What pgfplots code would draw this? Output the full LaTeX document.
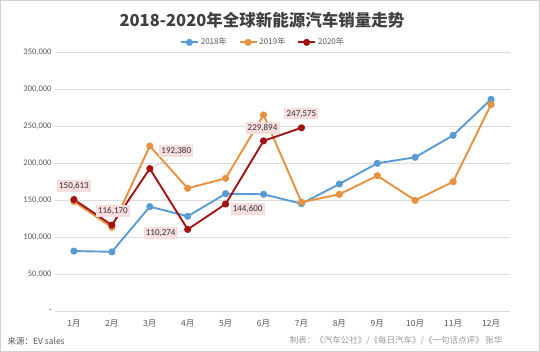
\documentclass[border=0pt]{standalone}
\usepackage{pgfplots}
\pgfplotsset{compat=1.18}
\usepackage{fontspec}
\setmainfont{Carlito}
\newfontfamily\cjk{Noto Sans CJK SC}
\definecolor{c18}{HTML}{5B9BD5}
\definecolor{c19}{HTML}{E8913F}
\definecolor{c20}{HTML}{A31515}
\definecolor{lbl}{HTML}{F7DEDE}
\definecolor{txt}{HTML}{595959}
\begin{document}
\begin{tikzpicture}[x=1pt,y=1pt]
\fill[white] (0,0) rectangle (540,352);
\draw[gray!35] (0.5,0.5) rectangle (539.5,351.5);
\begin{axis}[
  at={(55pt,41pt)}, anchor=south west,
  width=455pt, height=259pt, scale only axis,
  xmin=0.5, xmax=12.5, ymin=0, ymax=350000,
  scaled y ticks=false,
  ytick={0,50000,100000,150000,200000,250000,300000,350000},
  yticklabels={-,{50,000},{100,000},{150,000},{200,000},{250,000},{300,000},{350,000}},
  xtick={1,...,12},
  xticklabels={1月,2月,3月,4月,5月,6月,7月,8月,9月,10月,11月,12月},
  ymajorgrids, grid style={draw=gray!28, line width=0.8pt},
  axis line style={draw=none}, major tick style={draw=none},
  yticklabel style={font=\fontsize{8.5}{10}\selectfont, text=txt},
  xticklabel style={font=\cjk\fontsize{8.5}{10}\selectfont, text=txt, yshift=-5pt},
  legend style={at={(0.457,1.005)}, anchor=south, draw=none, fill=none,
    legend columns=3, font=\cjk\fontsize{8}{10}\selectfont, text=txt,
    /tikz/every even column/.append style={column sep=10pt}},
  legend image post style={line width=1.8pt},
  every axis plot/.append style={line width=1.9pt, mark=*, mark size=2.6pt, line join=round},
]
\addplot[c18, mark options={fill=c18, draw=c18}] coordinates {
(1,81000)(2,80000)(3,141000)(4,128000)(5,158500)(6,157700)(7,145000)(8,171600)(9,199600)(10,207700)(11,237400)(12,286000)};
\addlegendentry{2018年}
\addplot[c19, mark options={fill=c19, draw=c19}] coordinates {
(1,148000)(2,113000)(3,222900)(4,165800)(5,179300)(6,264900)(7,147000)(8,157700)(9,182800)(10,149500)(11,174700)(12,279000)};
\addlegendentry{2019年}
\addplot[c20, mark options={fill=c20, draw=c20}] coordinates {
(1,150613)(2,116170)(3,192380)(4,110274)(5,144600)(6,229894)(7,247575)};
\addlegendentry{2020年}
\tikzset{dl/.style={fill=lbl, inner sep=2.2pt, font=\fontsize{9}{10}\selectfont, text=black!80}}
\draw[gray!60, thin] (axis cs:3,192380) -- ++(18pt,9pt);
\draw[gray!60, thin] (axis cs:4,110274) -- ++(-8pt,-2pt);
\node[dl] at (axis cs:1,150613) [yshift=13.5pt] {150,613};
\node[dl] at (axis cs:2,116170) [yshift=14pt, xshift=1pt] {116,170};
\node[dl] at (axis cs:3,192380) [xshift=26.5pt, yshift=17.6pt] {192,380};
\node[dl] at (axis cs:4,110274) [xshift=-27pt, yshift=-3.6pt] {110,274};
\node[dl] at (axis cs:5,144600) [xshift=22pt, yshift=-5pt] {144,600};
\node[dl] at (axis cs:6,229894) [xshift=-1pt, yshift=13pt] {229,894};
\node[dl] at (axis cs:7,247575) [yshift=14pt] {247,575};
\end{axis}
\node[font=\cjk\bfseries\fontsize{16.5}{18}\selectfont, text=black!75] at (262,332) {2018-2020年全球新能源汽车销量走势};
\node[font=\cjk\fontsize{8.5}{10}\selectfont, text=txt, anchor=west] at (4,11) {来源：EV sales};
\node[font=\cjk\fontsize{8.5}{10}\selectfont, text=gray!80, anchor=east] at (506,11) {制表：《汽车公社》/《每日汽车》/《一句话点评》 张华};
\end{tikzpicture}
\end{document}
